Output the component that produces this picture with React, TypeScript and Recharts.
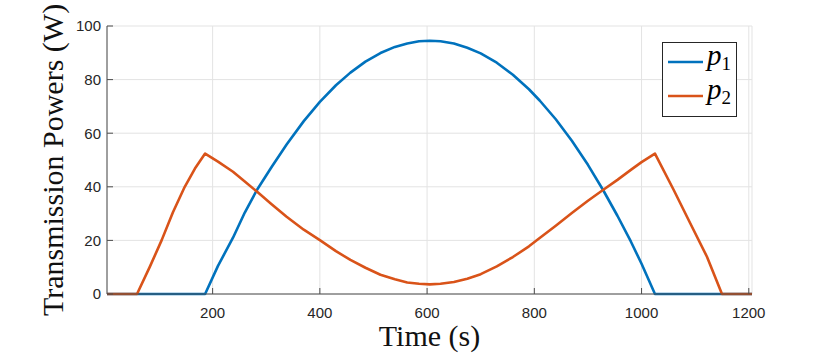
import { LineChart, Line, XAxis, YAxis, CartesianGrid } from 'recharts';

// time samples (s)
const times = [3, 59, 83, 105, 126, 148, 167, 186, 210, 238, 260, 282, 310, 338, 370, 400, 430, 457, 485, 513, 540, 563, 585, 605, 625, 650, 675, 700, 730, 760, 790, 810, 840, 870, 900, 928, 955, 980, 1000, 1025, 1060, 1091, 1122, 1150, 1206];

// p1 transmission power (W)
const p1Values = [0, 0, 0, 0, 0, 0, 0, 0, 10.5, 21, 30.4, 38.6, 47.4, 55.8, 64.5, 71.7, 77.9, 82.6, 86.7, 89.9, 92.2, 93.5, 94.3, 94.5, 94.3, 93.5, 91.9, 89.8, 86.3, 81.8, 76.4, 72.2, 65.2, 57.2, 48.2, 38.9, 29.2, 19.6, 11.3, 0, 0, 0, 0, 0, 0];

// p2 transmission power (W)
const p2Values = [0, 0, 10.2, 20.1, 30.5, 40, 46.8, 52.4, 49.4, 45.6, 42, 38.3, 33.5, 28.8, 24, 20.1, 16, 12.7, 9.8, 7.2, 5.5, 4.3, 3.8, 3.6, 3.8, 4.5, 5.7, 7.4, 10.3, 13.8, 17.8, 20.9, 25.5, 30.2, 34.8, 38.8, 42.6, 46.3, 49.2, 52.4, 38.8, 26.3, 13.9, 0, 0];

const xTicks = [200, 400, 600, 800, 1000, 1200];
const yTicks = [0, 20, 40, 60, 80, 100];

const BLUE = '#0072BD';
const ORANGE = '#D95319';
const AXIS = '#4d4d4d';
const SERIF = '"Liberation Serif", "Times New Roman", serif';
const SANS = '"Liberation Sans", Arial, sans-serif';

const data = times.map((t, i) => ({ t, p1: p1Values[i], p2: p2Values[i] }));

function LegendBox() {
  const item = (color: string, sub: string) => (
    <div style={{ display: 'flex', alignItems: 'center', height: 34 }}>
      <svg width={40} height={10} style={{ marginLeft: 4 }}>
        <line x1={1} y1={5} x2={36} y2={5} stroke={color} strokeWidth={2.5} />
      </svg>
      <span style={{ fontFamily: SERIF, fontStyle: 'italic', fontSize: 29, lineHeight: '29px', marginTop: -6 }}>
        p
        <sub style={{ fontStyle: 'normal', fontSize: 19, verticalAlign: -5 }}>{sub}</sub>
      </span>
    </div>
  );
  return (
    <div style={{ position: 'absolute', left: 662, top: 42, width: 73, height: 71, border: '1px solid #262626', background: '#fff', paddingTop: 2, boxSizing: 'content-box' }}>
      {item(BLUE, '1')}
      {item(ORANGE, '2')}
    </div>
  );
}

export default function App() {
  return (
    <div style={{ position: 'absolute', left: 0, top: 0, width: 830, height: 356, background: '#fff' }}>
      <LineChart width={830} height={356} data={data} margin={{ top: 26, right: 78, bottom: 0, left: 0 }}>
        <CartesianGrid stroke="#e3e3e3" strokeWidth={1} />
        <XAxis
          dataKey="t"
          type="number"
          domain={[3, 1206]}
          ticks={xTicks}
          height={62}
          stroke={AXIS}
          tickSize={-6}
          tickMargin={19.5}
          fontSize={15}
          tick={{ fill: '#262626', fontSize: 15, fontFamily: SANS }}
          label={{ value: 'Time (s)', position: 'insideBottom', offset: 10, fill: '#111', fontSize: 30, fontFamily: SERIF }}
        />
        <XAxis
          xAxisId="top"
          orientation="top"
          dataKey="t"
          type="number"
          domain={[3, 1206]}
          ticks={xTicks}
          height={0}
          stroke={AXIS}
          tickSize={-6}
          tick={false}
        />
        <YAxis
          type="number"
          domain={[0, 100]}
          ticks={yTicks}
          width={107}
          stroke={AXIS}
          tickSize={-6}
          tickMargin={12}
          fontSize={15}
          tick={{ fill: '#262626', fontSize: 15, fontFamily: SANS }}
          label={{ value: 'Transmission Powers (W)', angle: -90, position: 'insideLeft', offset: 52, fill: '#111', fontSize: 30, fontFamily: SERIF, style: { textAnchor: 'middle' } }}
        />
        <YAxis
          yAxisId="right"
          orientation="right"
          type="number"
          domain={[0, 100]}
          ticks={yTicks}
          width={0}
          stroke={AXIS}
          tickSize={-6}
          tick={false}
        />
        <Line type="linear" dataKey="p1" stroke={BLUE} strokeWidth={2.6} dot={false} isAnimationActive={false} strokeLinejoin="round" />
        <Line type="linear" dataKey="p2" stroke={ORANGE} strokeWidth={2.6} dot={false} isAnimationActive={false} strokeLinejoin="round" />
      </LineChart>
      <LegendBox />
    </div>
  );
}
